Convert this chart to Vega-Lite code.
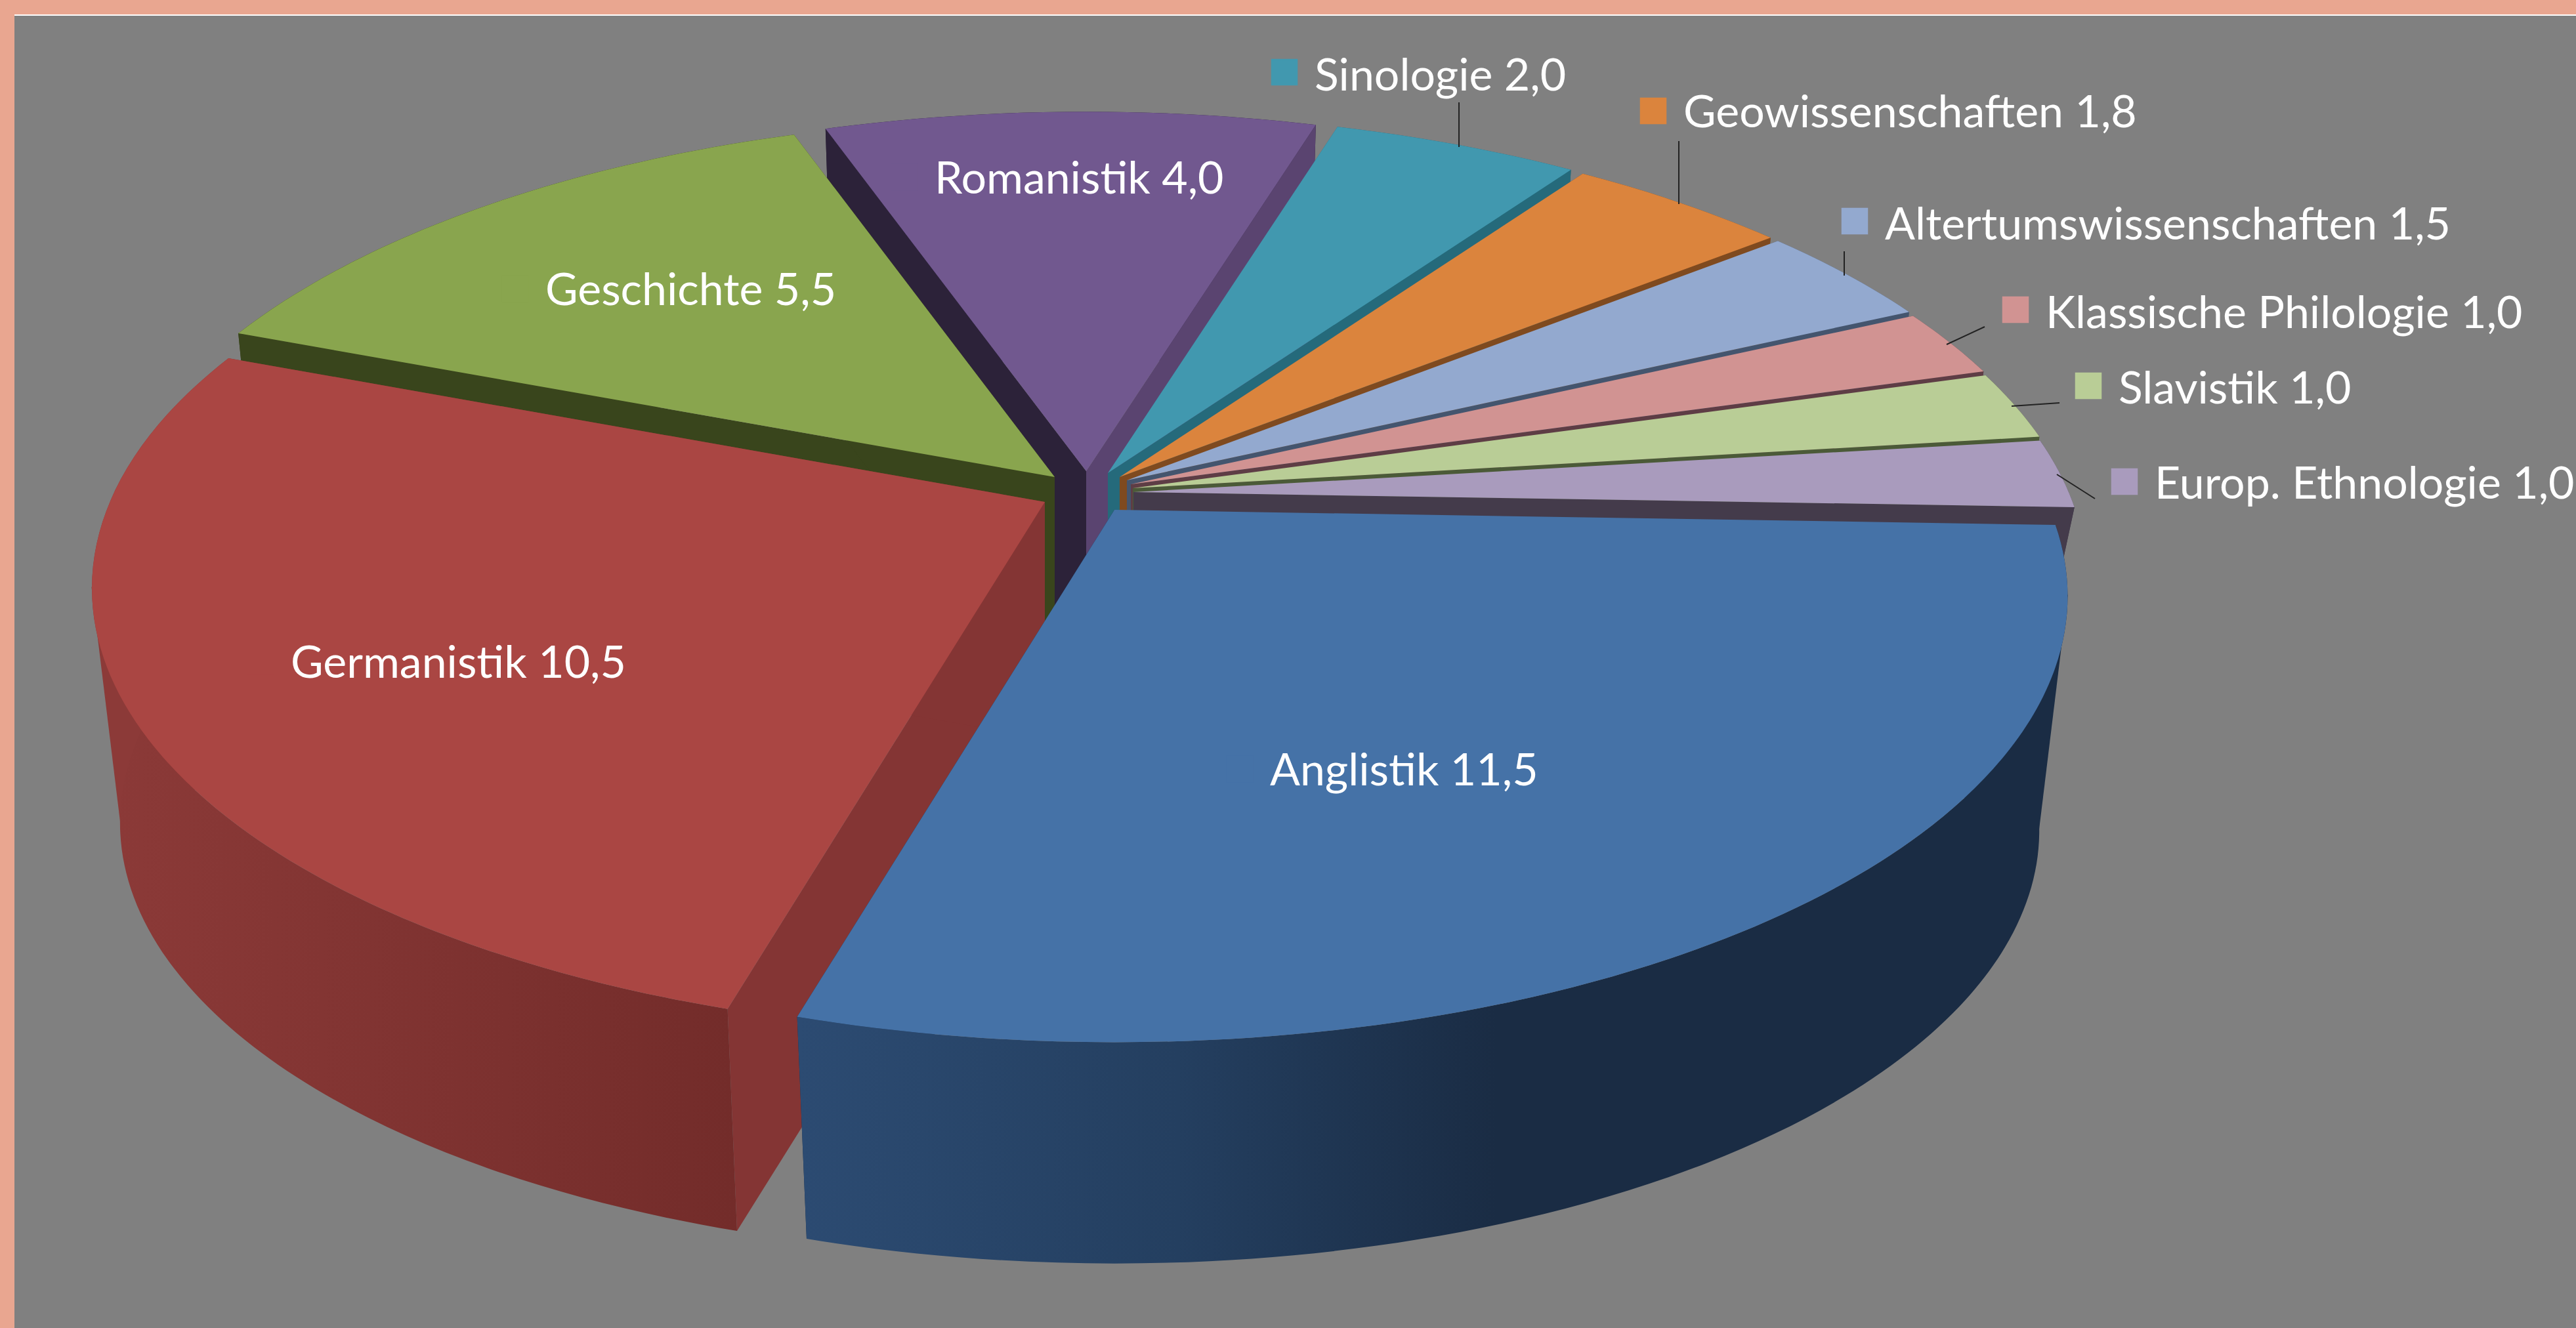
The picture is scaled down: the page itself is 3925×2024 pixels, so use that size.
{
"$schema":"https://vega.github.io/schema/vega-lite/v6.json",
"width":3903,"height":2001,
"autosize":{"type":"none"},
"padding":{"left":22,"top":23,"right":0,"bottom":0},
"background":"#E9A690",
"config":{"view":{"fill":"#808080","stroke":null}},
"data":{"values":[
{"name":"Anglistik","value":11.5,"order":1},
{"name":"Germanistik","value":10.5,"order":2},
{"name":"Geschichte","value":5.5,"order":3},
{"name":"Romanistik","value":4.0,"order":4},
{"name":"Sinologie","value":2.0,"order":5},
{"name":"Geowissenschaften","value":1.8,"order":6},
{"name":"Altertumswissenschaften","value":1.5,"order":7},
{"name":"Klassische Philologie","value":1.0,"order":8},
{"name":"Slavistik","value":1.0,"order":9},
{"name":"Europ. Ethnologie","value":1.0,"order":10}
]},
"transform":[
{"joinaggregate":[{"op":"sum","field":"value","as":"total"}]},
{"window":[{"op":"sum","field":"value","as":"cum"}],"sort":[{"field":"order","order":"ascending"}],"frame":[null,0]},
{"calculate":"(92+(datum.cum-datum.value)/datum.total*360)*PI/180","as":"a0"},
{"calculate":"(92+datum.cum/datum.total*360)*PI/180","as":"a1"},
{"calculate":"(datum.order==1?101:259)*PI/180","as":"ae"},
{"calculate":"[1698,1592,1607,1655,1688,1706,1717,1723,1726,1727][datum.order-1]","as":"ax"},
{"calculate":"[777,765,727,718,721,727,732,738,744,750][datum.order-1]","as":"ay"},
{"calculate":"[11,3,2,1,4,5,6,7,8,9][datum.order-1]","as":"z"},
{"calculate":"datum.order==10?200:361","as":"dep"},
{"calculate":"round(1425*sin(datum.a0)/(1+0.194*cos(datum.a0))*10)/10","as":"x0"},
{"calculate":"round(-654*cos(datum.a0)/(1+0.194*cos(datum.a0))*10)/10","as":"y0"},
{"calculate":"round(1425*sin(datum.a1)/(1+0.194*cos(datum.a1))*10)/10","as":"x1"},
{"calculate":"round(-654*cos(datum.a1)/(1+0.194*cos(datum.a1))*10)/10","as":"y1"},
{"calculate":"round(1425*sin(datum.ae)/(1+0.194*cos(datum.ae))*10)/10","as":"xe"},
{"calculate":"round(-654*cos(datum.ae)/(1+0.194*cos(datum.ae))*10)/10","as":"ye"},
{"calculate":"round(datum.x0*0.97)+','+round(datum.y0*0.97+datum.dep)","as":"b0"},
{"calculate":"round(datum.x1*0.97)+','+round(datum.y1*0.97+datum.dep)","as":"b1"},
{"calculate":"round(datum.xe*0.97)+','+round(datum.ye*0.97+datum.dep)","as":"be"},
{"calculate":"'M0,0L'+datum.x0+','+datum.y0+'A1452.6,680 0 0 1 '+datum.x1+','+datum.y1+'Z'","as":"topPath"},
{"calculate":"'M'+datum.x0+','+datum.y0+'A1452.6,680 0 0 1 '+datum.x1+','+datum.y1+'L'+datum.b1+'A1409,660 0 0 0 '+datum.b0+'Z'","as":"rimPath"},
{"calculate":"'M'+datum.xe+','+datum.ye+'L'+datum.be+'L'+round(datum.xe*0.5)+',200Z'","as":"hullPath"},
{"calculate":"'M0,0L'+datum.x0+','+datum.y0+'L'+datum.b0+'L0,'+datum.dep+'Z'","as":"cutAPath"},
{"calculate":"'M0,0L'+datum.x1+','+datum.y1+'L'+datum.b1+'L0,'+datum.dep+'Z'","as":"cutBPath"},
{"calculate":"[1935,443,831,1424,2003,2565,2872,3117,3228,3283][datum.order-1]","as":"lx"},
{"calculate":"[1177,1013,445,275,118,174,345,480,595,740][datum.order-1]","as":"ly"},
{"calculate":"datum.lx-46","as":"sx"},
{"calculate":"[1172,1008,440,270,110,169,337,472,588,734][datum.order-1]","as":"sy"},
{"calculate":"[0,0,0,0,2223,2558,2810,3024,3138,3192][datum.order-1]","as":"l1x"},
{"calculate":"[0,0,0,0,156,215,383,498,614,760][datum.order-1]","as":"l1y"},
{"calculate":"[0,0,0,0,2223,2558,2810,2966,3065,3134][datum.order-1]","as":"l2x"},
{"calculate":"[0,0,0,0,224,311,420,525,619,723][datum.order-1]","as":"l2y"},
{"calculate":"datum.name+' '+replace(format(datum.value,'.1f'),'.',',')","as":"label"}
],
"encoding":{
"x":{"field":"ax","type":"quantitative","axis":null,"scale":{"domain":[22,3925]}},
"y":{"field":"ay","type":"quantitative","axis":null,"scale":{"domain":[23,2024],"reverse":true}},
"order":{"field":"z"}
},
"layer":[
{"transform":[{"filter":"datum.order>2"}],"mark":{"type":"point","filled":true,"opacity":1,"size":4,"strokeWidth":0},
 "encoding":{"shape":{"field":"rimPath","type":"nominal","scale":null,"legend":null},
 "color":{"field":"name","type":"nominal","legend":null,"sort":null,"scale":{"domain":["Geschichte","Romanistik","Sinologie","Geowissenschaften","Altertumswissenschaften","Klassische Philologie","Slavistik","Europ. Ethnologie"],"range":["#39451C","#2C2239","#256A7B","#7F4A1F","#44556E","#5E3D45","#4B5A38","#443B4B"]}}}},
{"mark":{"type":"point","filled":true,"opacity":1,"size":4,"strokeWidth":0},
 "encoding":{"shape":{"field":"cutAPath","type":"nominal","scale":null,"legend":null},
 "color":{"field":"name","type":"nominal","legend":null,"sort":null,"scale":{"domain":["Anglistik","Germanistik","Geschichte","Romanistik","Sinologie","Geowissenschaften","Altertumswissenschaften","Klassische Philologie","Slavistik","Europ. Ethnologie"],"range":["#1A2C44","#843534","#39451C","#2C2239","#256A7B","#7F4A1F","#44556E","#5E3D45","#4B5A38","#443B4B"]}}}},
{"mark":{"type":"point","filled":true,"opacity":1,"size":4,"strokeWidth":0},
 "encoding":{"shape":{"field":"cutBPath","type":"nominal","scale":null,"legend":null},
 "color":{"field":"name","type":"nominal","legend":null,"sort":null,"scale":{"domain":["Anglistik","Germanistik","Geschichte","Romanistik","Sinologie","Geowissenschaften","Altertumswissenschaften","Klassische Philologie","Slavistik","Europ. Ethnologie"],"range":["#1A2C44","#843534","#39451C","#5A4470","#256A7B","#7F4A1F","#44556E","#5E3D45","#4B5A38","#443B4B"]}}}},
{"transform":[{"filter":"datum.order<=2"}],"mark":{"type":"point","filled":true,"opacity":1,"size":4,"strokeWidth":0},
 "encoding":{"shape":{"field":"hullPath","type":"nominal","scale":null,"legend":null},
 "color":{"field":"name","type":"nominal","legend":null,"sort":null,"scale":{"domain":["Anglistik","Germanistik"],"range":["#1A2C44","#8C3A38"]}}}},
{"transform":[{"filter":"datum.order==2"}],"mark":{"type":"point","filled":true,"opacity":1,"size":4,"strokeWidth":0,
 "color":{"x1":0,"y1":0,"x2":1,"y2":0,"gradient":"linear","stops":[{"offset":0,"color":"#8C3A38"},{"offset":1,"color":"#732C2A"}]}},
 "encoding":{"shape":{"field":"rimPath","type":"nominal","scale":null,"legend":null}}},
{"transform":[{"filter":"datum.order==1"}],"mark":{"type":"point","filled":true,"opacity":1,"size":4,"strokeWidth":0,
 "color":{"x1":0,"y1":0,"x2":1,"y2":0,"gradient":"linear","stops":[{"offset":0,"color":"#2C4B72"},{"offset":0.3,"color":"#243F60"},{"offset":0.55,"color":"#1A2C44"},{"offset":1,"color":"#1A2C44"}]}},
 "encoding":{"shape":{"field":"rimPath","type":"nominal","scale":null,"legend":null}}},
{"mark":{"type":"point","filled":true,"opacity":1,"size":4,"strokeWidth":0},
 "encoding":{"shape":{"field":"topPath","type":"nominal","scale":null,"legend":null},
 "color":{"field":"name","type":"nominal","legend":null,"sort":null,"scale":{"domain":["Anglistik","Germanistik","Geschichte","Romanistik","Sinologie","Geowissenschaften","Altertumswissenschaften","Klassische Philologie","Slavistik","Europ. Ethnologie"],"range":["#4572A7","#AA4643","#89A54E","#71588F","#4198AF","#DB843D","#93A9CF","#D19392","#B9CD96","#A99BBD"]}}}},
{"transform":[{"filter":"datum.order>=5"}],
 "mark":{"type":"rule","color":"#222222","strokeWidth":2},
 "encoding":{"x":{"field":"l1x","type":"quantitative"},"y":{"field":"l1y","type":"quantitative"},"x2":{"field":"l2x"},"y2":{"field":"l2y"}}},
{"transform":[{"filter":"datum.order==1"}],"mark":{"type":"rule","color":"#FFFFFF","strokeWidth":2},
 "encoding":{"x":{"datum":22,"type":"quantitative"},"x2":{"datum":3925},"y":{"datum":23,"type":"quantitative"}}},
{"mark":{"type":"point","shape":"square","filled":true,"opacity":1,"size":1640,"strokeWidth":0},
 "encoding":{"x":{"field":"sx","type":"quantitative"},"y":{"field":"sy","type":"quantitative"},
 "color":{"field":"name","type":"nominal","legend":null,"sort":null,"scale":{"domain":["Anglistik","Germanistik","Geschichte","Romanistik","Sinologie","Geowissenschaften","Altertumswissenschaften","Klassische Philologie","Slavistik","Europ. Ethnologie"],"range":["#4572A7","#AA4643","#89A54E","#71588F","#4198AF","#DB843D","#93A9CF","#D19392","#B9CD96","#A99BBD"]}}}},
{"mark":{"type":"text","align":"left","baseline":"middle","font":"Lato","fontSize":68,"color":"#FFFFFF"},
 "encoding":{"x":{"field":"lx","type":"quantitative"},"y":{"field":"ly","type":"quantitative"},"text":{"field":"label"}}}
],
"resolve":{"scale":{"color":"independent"}}
}
